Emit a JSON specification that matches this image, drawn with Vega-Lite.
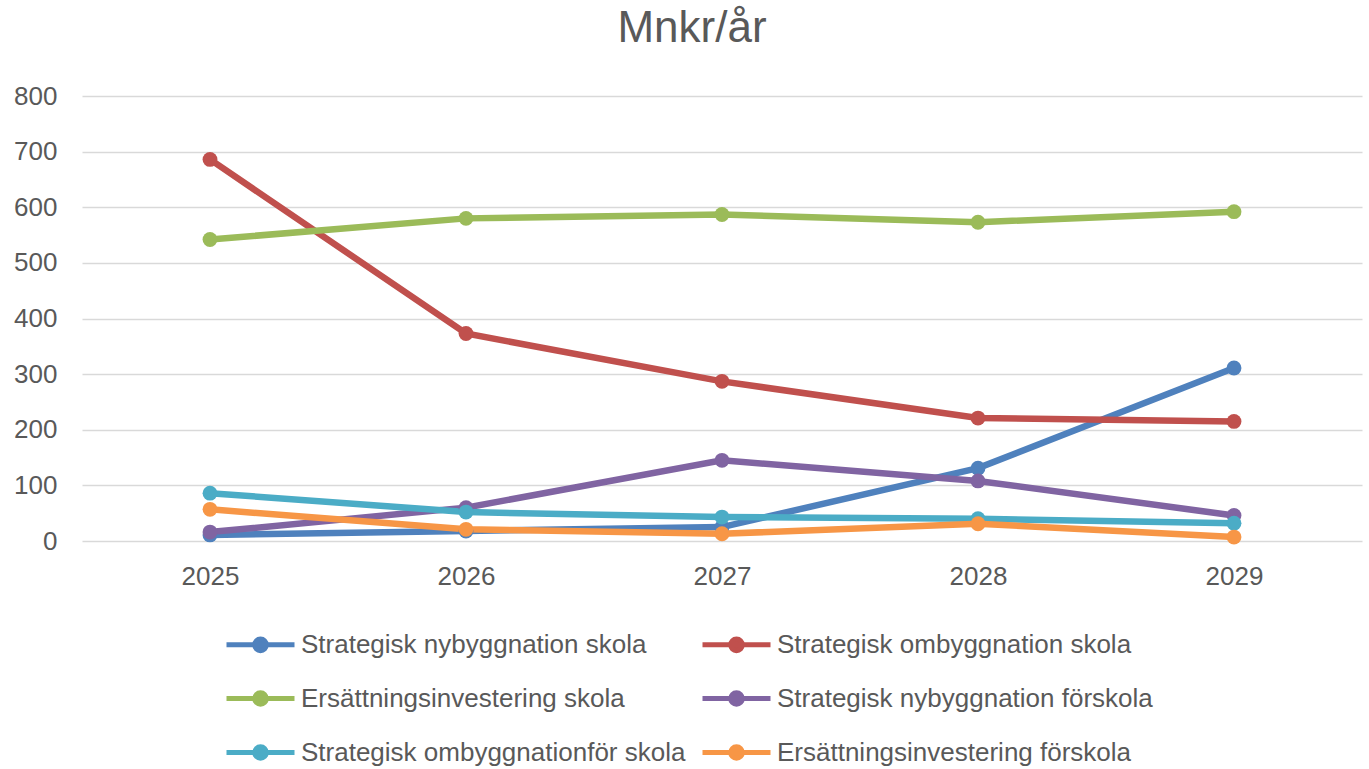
{
  "$schema": "https://vega.github.io/schema/vega-lite/v6.json",
  "width": 1280,
  "height": 445,
  "autosize": "none",
  "padding": {"left": 82, "top": 96, "right": 7, "bottom": 228},
  "background": "white",
  "config": {
    "font": "Liberation Sans",
    "view": {"stroke": null}
  },
  "title": {
    "text": "Mnkr/år",
    "fontSize": 44,
    "fontWeight": "normal",
    "color": "#595959",
    "anchor": "middle",
    "dx": -30,
    "offset": 32
  },
  "data": {
    "values": [
      {"year": "2025", "series": "Strategisk nybyggnation skola", "value": 11},
      {"year": "2026", "series": "Strategisk nybyggnation skola", "value": 18},
      {"year": "2027", "series": "Strategisk nybyggnation skola", "value": 25},
      {"year": "2028", "series": "Strategisk nybyggnation skola", "value": 131},
      {"year": "2029", "series": "Strategisk nybyggnation skola", "value": 311},
      {"year": "2025", "series": "Strategisk ombyggnation skola", "value": 686},
      {"year": "2026", "series": "Strategisk ombyggnation skola", "value": 373},
      {"year": "2027", "series": "Strategisk ombyggnation skola", "value": 287},
      {"year": "2028", "series": "Strategisk ombyggnation skola", "value": 221},
      {"year": "2029", "series": "Strategisk ombyggnation skola", "value": 215},
      {"year": "2025", "series": "Ersättningsinvestering skola", "value": 542},
      {"year": "2026", "series": "Ersättningsinvestering skola", "value": 580},
      {"year": "2027", "series": "Ersättningsinvestering skola", "value": 587},
      {"year": "2028", "series": "Ersättningsinvestering skola", "value": 573},
      {"year": "2029", "series": "Ersättningsinvestering skola", "value": 592},
      {"year": "2025", "series": "Strategisk nybyggnation förskola", "value": 16},
      {"year": "2026", "series": "Strategisk nybyggnation förskola", "value": 60},
      {"year": "2027", "series": "Strategisk nybyggnation förskola", "value": 145},
      {"year": "2028", "series": "Strategisk nybyggnation förskola", "value": 108},
      {"year": "2029", "series": "Strategisk nybyggnation förskola", "value": 46},
      {"year": "2025", "series": "Strategisk ombyggnationför skola", "value": 86},
      {"year": "2026", "series": "Strategisk ombyggnationför skola", "value": 52},
      {"year": "2027", "series": "Strategisk ombyggnationför skola", "value": 43},
      {"year": "2028", "series": "Strategisk ombyggnationför skola", "value": 40},
      {"year": "2029", "series": "Strategisk ombyggnationför skola", "value": 32},
      {"year": "2025", "series": "Ersättningsinvestering förskola", "value": 57},
      {"year": "2026", "series": "Ersättningsinvestering förskola", "value": 21},
      {"year": "2027", "series": "Ersättningsinvestering förskola", "value": 13},
      {"year": "2028", "series": "Ersättningsinvestering förskola", "value": 31},
      {"year": "2029", "series": "Ersättningsinvestering förskola", "value": 7}
    ]
  },
  "mark": {
    "type": "line",
    "strokeWidth": 6.5,
    "point": {"filled": true, "size": 220}
  },
  "encoding": {
    "x": {
      "field": "year",
      "type": "ordinal",
      "scale": {"paddingInner": 0, "paddingOuter": 0},
      "axis": {
        "title": null,
        "labelAngle": 0,
        "labelFontSize": 26,
        "labelColor": "#595959",
        "labelPadding": 22,
        "domain": false,
        "ticks": false,
        "grid": false
      }
    },
    "y": {
      "field": "value",
      "type": "quantitative",
      "scale": {"domain": [0, 800], "nice": false},
      "axis": {
        "title": null,
        "values": [0, 100, 200, 300, 400, 500, 600, 700, 800],
        "labelFontSize": 26,
        "labelColor": "#595959",
        "labelPadding": 25,
        "domain": false,
        "ticks": false,
        "grid": true,
        "gridColor": "#D9D9D9",
        "gridWidth": 1.5
      }
    },
    "color": {
      "field": "series",
      "type": "nominal",
      "sort": null,
      "scale": {
        "domain": [
          "Strategisk nybyggnation skola",
          "Strategisk ombyggnation skola",
          "Ersättningsinvestering skola",
          "Strategisk nybyggnation förskola",
          "Strategisk ombyggnationför skola",
          "Ersättningsinvestering förskola"
        ],
        "range": ["#4F81BD", "#C0504D", "#9BBB59", "#8064A2", "#4BACC6", "#F79646"]
      },
      "legend": {
        "title": null,
        "orient": "none",
        "legendX": 142,
        "legendY": 512,
        "direction": "horizontal",
        "columns": 2,
        "columnPadding": 6,
        "rowPadding": 1,
        "labelFontSize": 26,
        "labelColor": "#595959",
        "labelFont": "Liberation Sans",
        "labelOffset": 4,
        "labelLimit": 0,
        "symbolType": "M-1,0H1M-0.17,0A0.17,0.17,0,1,0,0.17,0A0.17,0.17,0,1,0,-0.17,0Z",
        "symbolSize": 4624,
        "symbolStrokeWidth": 5,
        "encode": {
          "symbols": {
            "update": {
              "fill": {"scale": "color", "field": "value"},
              "stroke": {"scale": "color", "field": "value"},
              "strokeWidth": {"value": 5},
              "opacity": {"value": 1}
            }
          }
        }
      }
    }
  }
}
